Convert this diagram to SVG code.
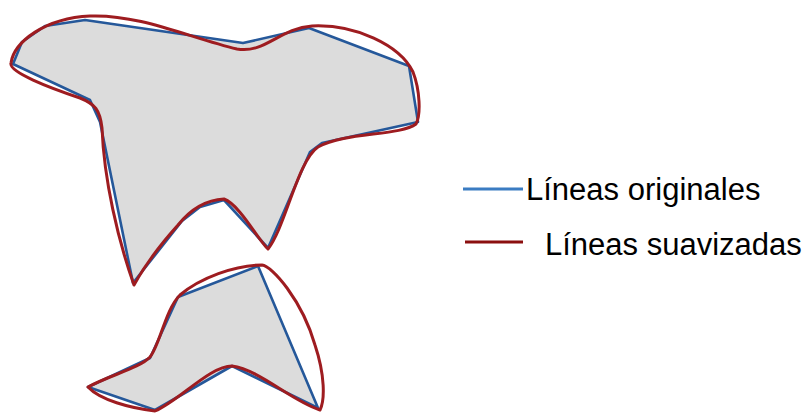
<svg xmlns="http://www.w3.org/2000/svg" width="812" height="413" viewBox="0 0 812 413">
<style>
.fill{fill:#dcdcdc;stroke:none}
.orig{fill:none;stroke:#25589a;stroke-width:2.6;stroke-linejoin:round}
.smooth{fill:none;stroke:#9e1c20;stroke-width:3;stroke-linejoin:round}
.lbl{font-family:"Liberation Sans",Arial,sans-serif;font-size:31px;fill:#000}
</style>
<rect width="812" height="413" fill="#ffffff"/>
<g id="shape-top">
<polygon class="fill" points="13,64 22,42 45,26 85,20 243,43 309,28 409,66 418,122 322,143 310,152 268,248 224,200 200,207 182,221 133,283 100,122 90,100"/>
<polygon class="orig" points="13,64 22,42 45,26 85,20 243,43 309,28 409,66 418,122 322,143 310,152 268,248 224,200 200,207 182,221 133,283 100,122 90,100"/>
<path class="smooth" d="M 11,63 C 14,42 45,18 90,16 C 140,14 190,38 237,49 C 265,54 280,28 312,26 C 355,24 400,45 413,72 C 420,90 421,115 416,124 C 400,136 345,132 318,147 C 298,160 285,228 268,249 C 258,240 240,205 224,199 C 205,200 190,210 178,225 C 160,245 145,265 134,285 C 118,240 104,180 102,128 C 100,110 95,104 80,98 C 50,88 8,72 11,63 Z"/>
</g>
<g id="shape-bottom">
<polygon class="fill" points="88,387 150,358 178,297 258,266 318,408 232,366 155,410"/>
<polygon class="orig" points="88,387 150,358 178,297 258,266 318,408 232,366 155,410"/>
<path class="smooth" d="M 88,387 C 110,375 140,368 150,357 C 160,345 165,310 180,295 C 200,278 235,265 262,265 C 272,266 302,300 315,345 C 325,375 325,400 320,410 C 290,400 260,370 232,366 C 210,366 180,400 155,411 C 130,408 100,400 88,387 Z"/>
</g>
<g id="legend">
<line x1="463" y1="189" x2="523" y2="189" stroke="#3b7cc2" stroke-width="3"/>
<text class="lbl" x="526" y="200">Líneas originales</text>
<line x1="465" y1="242" x2="523" y2="242" stroke="#8b0f0f" stroke-width="3"/>
<text class="lbl" x="545" y="255">Líneas suavizadas</text>
</g>
</svg>
